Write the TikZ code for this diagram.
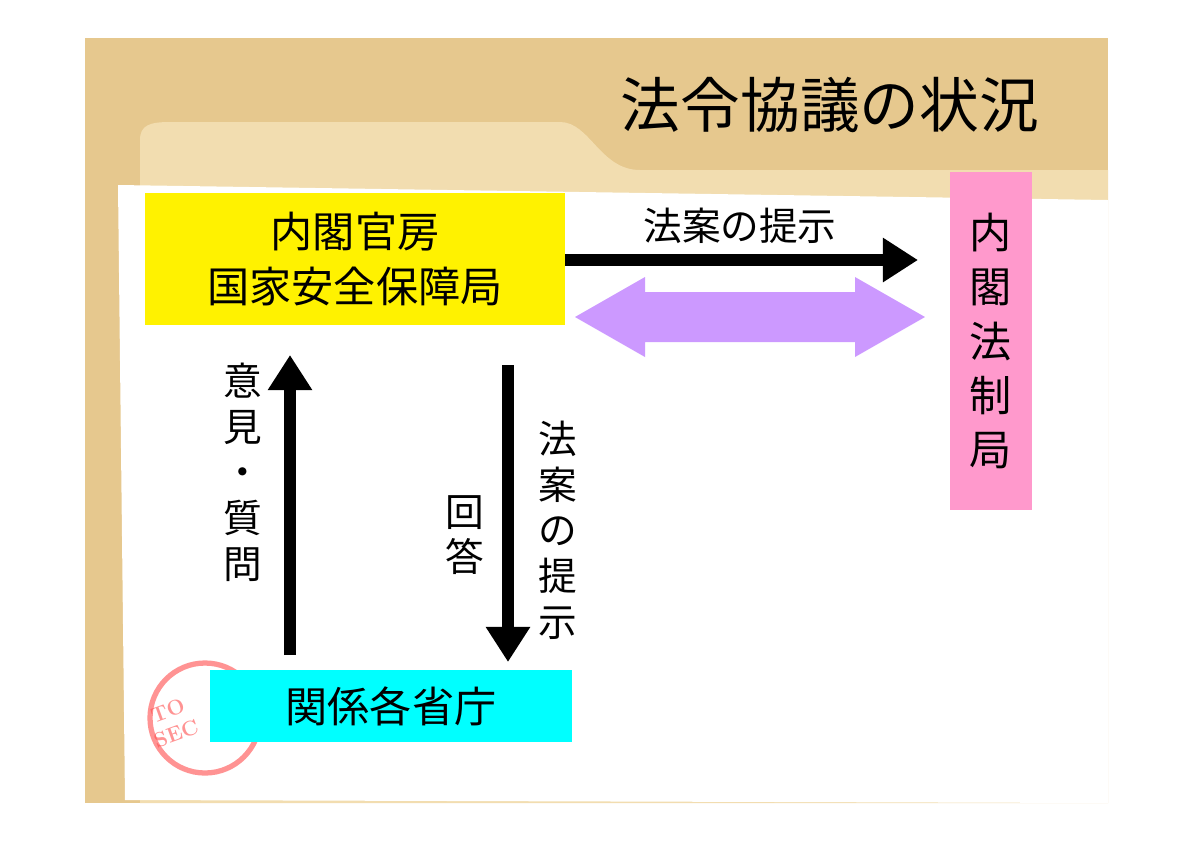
\documentclass[tikz,border=0pt]{standalone}
\usepackage{fontspec}
\newfontfamily\jp{Noto Sans CJK JP}
\usetikzlibrary{arrows.meta}
\definecolor{tan}{HTML}{E6C88E}
\definecolor{folder}{HTML}{F2DDB0}
\definecolor{lilac}{HTML}{CC99FF}
\definecolor{pinkbox}{HTML}{FF99CC}
\definecolor{cyanbox}{HTML}{00FFFF}
\tikzset{
  box/.style={inner sep=0pt, align=center, font=\jp\fontsize{24}{31}\selectfont},
  label/.style={align=center, font=\jp\fontsize{22}{26}\selectfont},
  bigarrow/.style={draw, line width=6.5pt, -{Triangle[length=20pt,width=24pt]}},
}
\begin{document}
\begin{tikzpicture}[x=0.02cm,y=-0.02cm]
  \useasboundingbox (0,0) rectangle (1193,843);
  % background folder
  \fill[white] (0,0) rectangle (1193,843);
  \fill[tan] (85,38) rectangle (1108,803);
  \fill[folder] (140,803) -- (140,140) .. controls (140,125) and (150,122) .. (170,122)
     -- (560,122) .. controls (590,122) and (600,170) .. (640,170) -- (1108,170) -- (1108,803) -- cycle;
  % paper
  \fill[white] (118,185) -- (1108,200) -- (1108,803) -- (125,800) -- cycle;
  \node[font=\jp\fontsize{34}{38}\selectfont] (title) at (830,105) {法令協議の状況};
  % boxes
  \node[box, fill=yellow, minimum width=8.4cm, minimum height=2.64cm] (kanbo) at (355,259) {内閣官房\\国家安全保障局};
  \node[box, fill=pinkbox, minimum width=1.64cm, minimum height=6.76cm] (hosei) at (991,341) {内\\閣\\法\\制\\局};
  \draw[red!70, line width=3pt, opacity=0.6] (205,718) circle (55);
  \node[red!70, opacity=0.6, font=\bfseries\large, align=center, rotate=20] (stamp) at (172,722) {TO\\SEC};
  \node[box, fill=cyanbox, minimum width=7.24cm, minimum height=1.44cm] (shocho) at (391,706) {関係各省庁};
  % connectors
  \coordinate (r1) at (565,260);
  \coordinate (r2) at (918,260);
  \path[bigarrow] (r1) -- (r2);
  \node[label] (teiji1) at (740,226) {法案の提示};
  \coordinate (kl) at (575,317);
  \coordinate (kr) at (925,317);
  \fill[lilac] (kl) -- (645,277) -- (645,292) -- (855,292) -- (855,277) -- (kr)
     -- (855,357) -- (855,342) -- (645,342) -- (645,357) -- cycle;
  \coordinate (u1) at (290,655);
  \coordinate (u2) at (290,355);
  \path[bigarrow] (u1) -- (u2);
  \node[label] (iken) at (243,472) {意\\見\\・\\質\\問};
  \coordinate (d1) at (508,365);
  \coordinate (d2) at (508,662);
  \path[bigarrow] (d1) -- (d2);
  \node[label] (teiji2) at (558,530) {法\\案\\の\\提\\示};
  \node[label] (kaito) at (465,535) {回\\答};
\end{tikzpicture}
\end{document}
